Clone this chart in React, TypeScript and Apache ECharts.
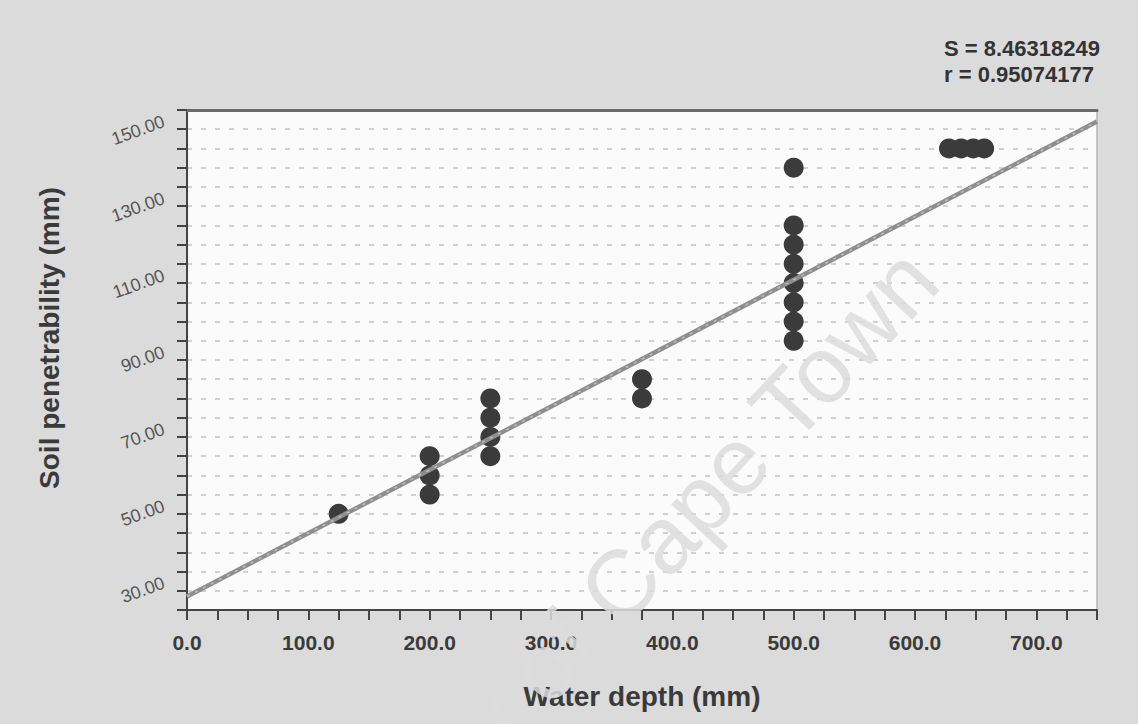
import React, { useEffect, useRef } from "react";
import * as echarts from "echarts";

// Data
const waterDepth = [125, 200, 200, 200, 250, 250, 250, 250, 375, 375, 500, 500, 500, 500, 500, 500, 500, 500, 628, 638, 648, 657];
const penetrability = [50, 55, 60, 65, 65, 70, 75, 80, 80, 85, 95, 100, 105, 110, 115, 120, 125, 140, 145, 145, 145, 145];

// Fitted regression line end points
const fitX = [0, 750];
const fitY = [28.5, 152];

// Axis ranges / ticks
const xRange = [0, 750];
const xTickStep = 25;
const xLabelStep = 100;
const yRange = [25, 155];
const yTickStep = 5;
const yLabelStart = 30;
const yLabelStep = 20;

const statLines = ["S = 8.46318249", "r = 0.95074177"];
const xTitle = "Water depth (mm)";
const yTitle = "Soil penetrability (mm)";
const watermark = "University of Cape Town";

export default function App() {
  const ref = useRef<HTMLDivElement>(null);

  useEffect(() => {
    if (!ref.current) return;
    const chart = echarts.init(ref.current, undefined, { renderer: "svg" });

    const points = waterDepth.map((x, i) => [x, penetrability[i]]);
    const fit = fitX.map((x, i) => [x, fitY[i]]);

    chart.setOption({
      animation: false,
      backgroundColor: "#dbdbdb",
      grid: {
        left: 187,
        top: 110,
        right: 41,
        bottom: 114,
        show: true,
        backgroundColor: "#fbfbfb",
        borderWidth: 0,
      },
      xAxis: [
        {
          type: "value",
          min: xRange[0],
          max: xRange[1],
          interval: xTickStep,
          position: "bottom",
          name: xTitle,
          nameLocation: "middle",
          nameGap: 72,
          nameTextStyle: {
            fontFamily: "'Liberation Sans', Arial, sans-serif",
            fontSize: 28,
            fontWeight: "bold",
            color: "#3a3a3a",
          },
          axisLine: { show: true, onZero: false, lineStyle: { color: "#444", width: 2 } },
          axisTick: { show: true, inside: false, length: 10, lineStyle: { color: "#444", width: 2 } },
          axisLabel: {
            margin: 22,
            fontFamily: "'Liberation Sans', Arial, sans-serif",
            fontWeight: "bold",
            fontSize: 21,
            color: "#3a3a3a",
            formatter: (v: number) => (v % xLabelStep === 0 ? v.toFixed(1) : ""),
          },
          splitLine: { show: false },
        },
        {
          type: "value",
          min: xRange[0],
          max: xRange[1],
          position: "top",
          axisLine: { show: true, onZero: false, lineStyle: { color: "#6a6a6a", width: 3 } },
          axisTick: { show: false },
          axisLabel: { show: false },
          splitLine: { show: false },
        },
      ],
      yAxis: [
        {
          type: "value",
          min: yRange[0],
          max: yRange[1],
          interval: yTickStep,
          position: "left",
          name: yTitle,
          nameLocation: "middle",
          nameGap: 124,
          nameTextStyle: {
            fontFamily: "'Liberation Sans', Arial, sans-serif",
            fontSize: 28,
            fontWeight: "bold",
            color: "#3a3a3a",
            padding: [0, 0, 0, 44],
          },
          axisLine: { show: true, onZero: false, lineStyle: { color: "#444", width: 2 } },
          axisTick: { show: true, inside: false, length: 10, lineStyle: { color: "#444", width: 2 } },
          axisLabel: {
            margin: 20,
            rotate: 20,
            verticalAlign: "bottom",
            fontFamily: "'Liberation Sans', Arial, sans-serif",
            fontSize: 18,
            color: "#555",
            formatter: (v: number) =>
              (v - yLabelStart) % yLabelStep === 0 && v >= yLabelStart ? v.toFixed(2) : "",
          },
          splitLine: {
            show: true,
            lineStyle: { color: "#c4c4c4", width: 1.5, type: [5, 9] },
          },
        },
        {
          type: "value",
          min: yRange[0],
          max: yRange[1],
          position: "right",
          axisLine: { show: true, onZero: false, lineStyle: { color: "#b5b5b5", width: 1.5 } },
          axisTick: { show: false },
          axisLabel: { show: false },
          splitLine: { show: false },
        },
      ],
      graphic: [
        {
          type: "text",
          right: 38,
          top: 35,
          z: 10,
          style: {
            text: statLines.join("\n"),
            align: "right",
            fontFamily: "'Liberation Sans', Arial, sans-serif",
            fontWeight: "bold",
            fontSize: 22,
            lineHeight: 26,
            fill: "#333",
          },
        },
        {
          type: "text",
          x: 571,
          y: 637,
          rotation: (47 * Math.PI) / 180,
          z: 1,
          style: {
            text: watermark,
            align: "center",
            verticalAlign: "middle",
            fontFamily: "'Liberation Sans', Arial, sans-serif",
            fontSize: 95,
            fill: "rgba(220,220,220,0.85)",
          },
        },
      ],
      series: [
        {
          type: "scatter",
          data: points,
          symbol: "circle",
          symbolSize: 20,
          itemStyle: { color: "#3b3b3b", opacity: 1 },
          z: 3,
        },
        {
          type: "line",
          data: fit,
          symbol: "none",
          lineStyle: { color: "#8e8e8e", width: 4.5 },
          z: 4,
        },
        {
          type: "line",
          data: fit,
          symbol: "none",
          lineStyle: { color: "#bdbdbd", width: 1.5, type: [3, 6] },
          z: 5,
        },
      ],
    });

    return () => chart.dispose();
  }, []);

  return (
    <div
      ref={ref}
      style={{ position: "fixed", left: 0, top: 0, width: 1138, height: 724 }}
    />
  );
}
